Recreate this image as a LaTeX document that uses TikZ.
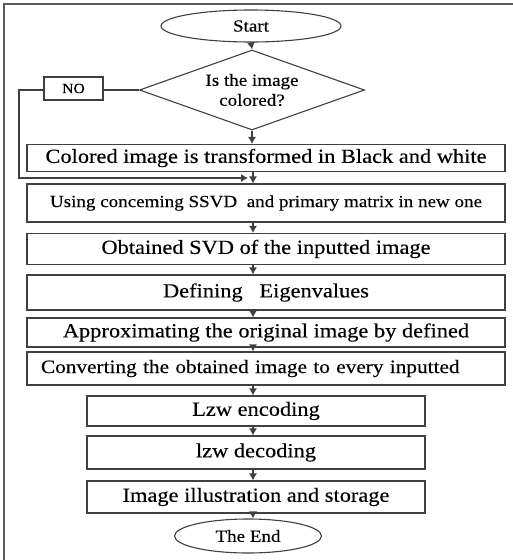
\documentclass[tikz,border=0pt]{standalone}
\usepackage{fontspec}
\setmainfont{Liberation Serif}[FakeStretch=1.12,FakeBold=0.3]
\usetikzlibrary{shapes.geometric,arrows.meta}

\tikzset{
  flow/.style={draw=black!75, line width=1.1pt},
  stepbox/.style={flow, rectangle, inner sep=0pt, font=\fontsize{20}{24}\selectfont},
  term/.style={flow, ellipse, inner sep=0pt, font=\fontsize{17}{20}\selectfont},
}

\begin{document}
\begin{tikzpicture}[x=1pt,y=-1pt,>={Latex[length=7pt,width=8pt]}]

    \useasboundingbox (0,0) rectangle (513,560);
    \draw[black!65, line width=1.6pt] (513,4) -- (4,4) -- (4,560);

    % start and question
    \node[term, minimum width=180, minimum height=32] (start) at (251,26) {Start};
    \node[flow, diamond, aspect=2.8, inner sep=0pt, minimum width=225, minimum height=80,
          align=center, font=\fontsize{17}{20}\selectfont] (cond) at (252,90) {Is the image\\colored?};
    \node[flow, rectangle, minimum width=59, minimum height=23, inner sep=0pt,
          font=\fontsize{14}{16}\selectfont] (no) at (73.5,88.5) {NO};

    % processing steps
    \node[stepbox, minimum width=478, minimum height=27] (b1) at (266,158) {Colored image is transformed in Black and white};
    \node[stepbox, minimum width=478, minimum height=38, font=\fontsize{17}{20}\selectfont] (b2) at (266,203) {Using conceming SSVD\ \ and primary matrix in new one};
    \node[stepbox, minimum width=478, minimum height=31] (b3) at (266,249) {Obtained SVD of the inputted image};
    \node[stepbox, minimum width=478, minimum height=35] (b4) at (266,292.5) {Defining\ \ \ Eigenvalues};
    \node[stepbox, minimum width=478, minimum height=29] (b5) at (266,332.5) {Approximating the original image by defined};
    \node[stepbox, minimum width=478, minimum height=33, text width=450, inner xsep=14pt, align=left,
          font=\fontsize{19}{23}\selectfont] (b6) at (266,368.5) {Converting the obtained image to every inputted};
    \node[stepbox, minimum width=338, minimum height=30] (b7) at (256,411) {Lzw encoding};
    \node[stepbox, minimum width=338, minimum height=33] (b8) at (256,452.5) {lzw decoding};
    \node[stepbox, minimum width=338, minimum height=32] (b9) at (256,497) {Image illustration and storage};
    \node[term, minimum width=147, minimum height=34] (end) at (248,536) {The End};

    \coordinate (axis) at (253,0);
    \coordinate (merge) at (248,178);
    \coordinate (bend) at (19,178);

    \draw[flow,->] (start.south) -- (cond.north);
    \draw[flow,->] (cond.south) -- (b1.north -| cond.south);
    \draw[flow] (cond.west) -- (cond.west -| no.east);
    \draw[flow,->] (no.west |- cond.west) -| (bend) -- (merge);

    \foreach \a/\b in {b1/b2,b2/b3,b3/b4,b4/b5,b5/b6,b6/b7,b7/b8,b8/b9,b9/end}
        \draw[flow,->] (\a.south -| axis) -- (\b.north -| axis);

\end{tikzpicture}
\end{document}
